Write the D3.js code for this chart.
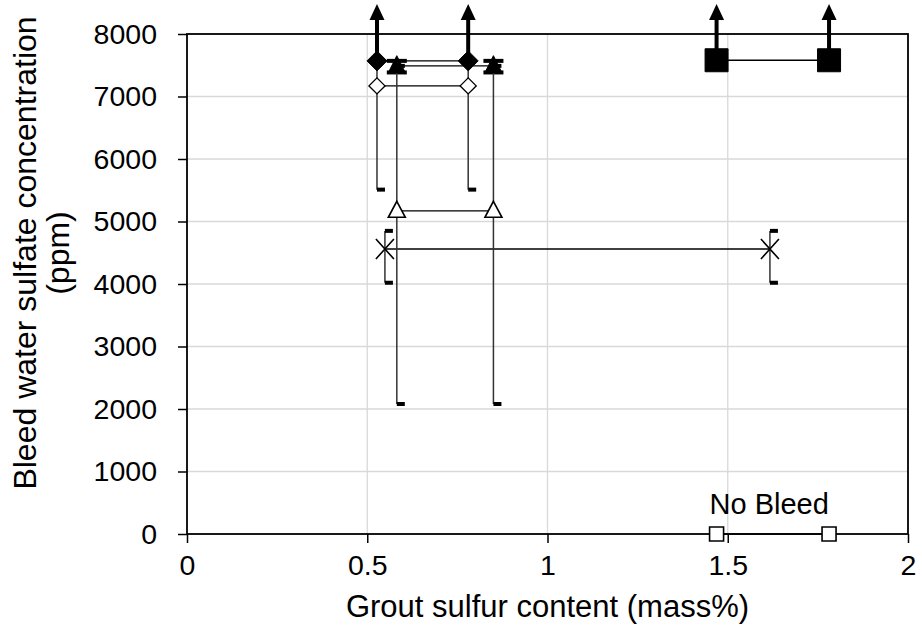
<!DOCTYPE html>
<html>
<head>
<meta charset="utf-8">
<script src="https://cdn.jsdelivr.net/npm/d3@7"></script>
<style>
  body { margin: 0; background: #fff; }
  svg text { font-family: "Liberation Sans", Arial, sans-serif; fill: #000; }
</style>
</head>
<body>
<div id="chart"></div>
<script>
// ---- data ----
var xTicks = [0, 0.5, 1, 1.5, 2],
    yTicks = [0, 1000, 2000, 3000, 4000, 5000, 6000, 7000, 8000];

// filled diamonds, with "greater than" arrows
var fdX = [0.527, 0.780], fdY = [7570, 7570], fdArrow = [8480, 8480];
// open diamonds
var odX = [0.527, 0.780], odY = [7170, 7170], odLo = [5510, 5510], odHi = [7570, 7570];
// filled triangles
var ftX = [0.582, 0.850], ftY = [7490, 7490], ftLo = [7385, 7385], ftHi = [7570, 7570];
// open triangles
var otX = [0.582, 0.850], otY = [5170, 5170], otLo = [2080, 2080], otHi = [7490, 7490];
// crosses
var crX = [0.549, 1.617], crY = [4560, 4560], crLo = [4020, 4020], crHi = [4850, 4850];
// filled squares, with arrows
var fsX = [1.469, 1.781], fsY = [7580, 7580], fsArrow = [8480, 8480];
// open squares (no bleed)
var osX = [1.469, 1.781], osY = [0, 0];
var noteText = "No Bleed", noteX = 1.615, noteY = 0;

var width = 922, height = 641,
    margin = { top: 34, right: 14, bottom: 107, left: 187 };

var svg = d3.select("#chart").append("svg")
    .attr("width", width).attr("height", height);

var x = d3.scaleLinear().domain([0, 2]).range([margin.left, width - margin.right]);
var y = d3.scaleLinear().domain([0, 8000]).range([height - margin.bottom, margin.top]);

var zip = function(xs, ys, lo, hi, up) {
    return xs.map(function(v, i) {
        return { x: v, y: ys[i], lo: lo ? lo[i] : null, hi: hi ? hi[i] : null, up: up ? up[i] : null };
    });
};

// gridlines
svg.append("g").selectAll("line").data(yTicks.slice(1, -1)).enter().append("line")
    .attr("x1", x(0)).attr("x2", x(2))
    .attr("y1", function(d) { return y(d); }).attr("y2", function(d) { return y(d); })
    .attr("stroke", "#d9d9d9").attr("stroke-width", 1.3);
svg.append("g").selectAll("line").data(xTicks.slice(1, -1)).enter().append("line")
    .attr("y1", y(0)).attr("y2", y(8000))
    .attr("x1", function(d) { return x(d); }).attr("x2", function(d) { return x(d); })
    .attr("stroke", "#d9d9d9").attr("stroke-width", 1.3);

// axes
var yAxis = d3.axisLeft(y).tickValues(yTicks).tickSize(9).tickPadding(21).tickFormat(d3.format("d"));
var xAxis = d3.axisBottom(x).tickValues(xTicks).tickSize(9).tickPadding(12).tickFormat(function(d) { return d; });
var gy = svg.append("g").attr("transform", "translate(" + x(0) + ",0)").call(yAxis);
var gx = svg.append("g").attr("transform", "translate(0," + y(0) + ")").call(xAxis);
[gx, gy].forEach(function(g) {
    g.select(".domain").remove();
    g.selectAll("line").attr("stroke", "#000").attr("stroke-width", 1.5);
    g.selectAll("text").attr("font-size", 28.5).attr("fill", "#000")
        .style("font-family", "'Liberation Sans', Arial, sans-serif");
});
// plot box
svg.append("rect")
    .attr("x", x(0)).attr("y", y(8000))
    .attr("width", x(2) - x(0)).attr("height", y(0) - y(8000))
    .attr("fill", "none").attr("stroke", "#000").attr("stroke-width", 1.8);

// axis titles
svg.append("text").attr("x", x(1)).attr("y", 617)
    .attr("text-anchor", "middle").attr("font-size", 31)
    .text("Grout sulfur content (mass%)");
var yt = svg.append("text").attr("transform", "translate(36,253) rotate(-90)")
    .attr("text-anchor", "middle").attr("font-size", 32);
yt.append("tspan").attr("x", 0).attr("dy", 0).text("Bleed water sulfate concentration");
yt.append("tspan").attr("x", 0).attr("dy", 33).text("(ppm)");

// ---- series ----
var plot = svg.append("g");
var line = d3.line().x(function(d) { return x(d.x); }).y(function(d) { return y(d.y); });

var series = [
    { pts: zip(fdX, fdY, null, null, fdArrow) },
    { pts: zip(odX, odY, odLo, odHi), cap: "half" },
    { pts: zip(ftX, ftY, ftLo, ftHi), cap: "full" },
    { pts: zip(otX, otY, otLo, otHi), cap: "half" },
    { pts: zip(crX, crY, crLo, crHi), cap: "half" },
    { pts: zip(fsX, fsY, null, null, fsArrow) },
    { pts: zip(osX, osY) }
];

// connecting lines
series.forEach(function(s) {
    plot.append("path").datum(s.pts).attr("d", line)
        .attr("fill", "none").attr("stroke", "#000").attr("stroke-width", 1.4);
});

// error bars
series.forEach(function(s) {
    if (!s.cap) return;
    var g = plot.append("g");
    s.pts.forEach(function(d) {
        var cx = x(d.x);
        g.append("line").attr("x1", cx).attr("x2", cx)
            .attr("y1", y(d.lo)).attr("y2", y(d.hi))
            .attr("stroke", "#333").attr("stroke-width", 1.5);
        [d.lo, d.hi].forEach(function(v) {
            var w = s.cap === "full" ? 20 : 8,
                x0 = s.cap === "full" ? cx - 10 : cx;
            g.append("rect").attr("x", x0).attr("y", y(v) - 2)
                .attr("width", w).attr("height", 4).attr("fill", "#000");
        });
    });
});

// arrows
var arrowSeries = [series[0], series[5]];
arrowSeries.forEach(function(s) {
    s.pts.forEach(function(d) {
        var cx = x(d.x), top = y(d.up);
        plot.append("line").attr("x1", cx).attr("x2", cx)
            .attr("y1", y(d.y)).attr("y2", top + 12)
            .attr("stroke", "#000").attr("stroke-width", 4);
        plot.append("path")
            .attr("d", "M" + cx + "," + top + "L" + (cx + 7.5) + "," + (top + 16) + "L" + (cx - 7.5) + "," + (top + 16) + "Z")
            .attr("fill", "#000");
    });
});

// markers
var diamond = function(r) { return "M0," + (-r) + "L" + r + ",0L0," + r + "L" + (-r) + ",0Z"; };
var triangle = function(w, h) { return "M0," + (-h * 0.6) + "L" + (w / 2) + "," + (h * 0.4) + "L" + (-w / 2) + "," + (h * 0.4) + "Z"; };

var drawMarkers = function(pts, path, fill, sw) {
    plot.append("g").selectAll("path").data(pts).enter().append("path")
        .attr("transform", function(d) { return "translate(" + x(d.x) + "," + y(d.y) + ")"; })
        .attr("d", path).attr("fill", fill).attr("stroke", "#000").attr("stroke-width", sw);
};
drawMarkers(series[1].pts, diamond(8), "#fff", 1.4);
drawMarkers(series[0].pts, diamond(10), "#000", 1);
drawMarkers(series[2].pts, triangle(17, 17), "#000", 1);
drawMarkers(series[3].pts, triangle(17, 16), "#fff", 1.6);
drawMarkers(series[5].pts, "M-11.5,-11.5h23v23h-23Z", "#000", 1);
drawMarkers(series[6].pts, "M-7,-7h14v14h-14Z", "#fff", 1.6);
drawMarkers(series[4].pts, "M-9,-10L9,10M-9,10L9,-10", "none", 1.6);

// note
svg.append("text").attr("x", x(noteX)).attr("y", y(noteY) - 20)
    .attr("text-anchor", "middle").attr("font-size", 29).text(noteText);
</script>
</body>
</html>
